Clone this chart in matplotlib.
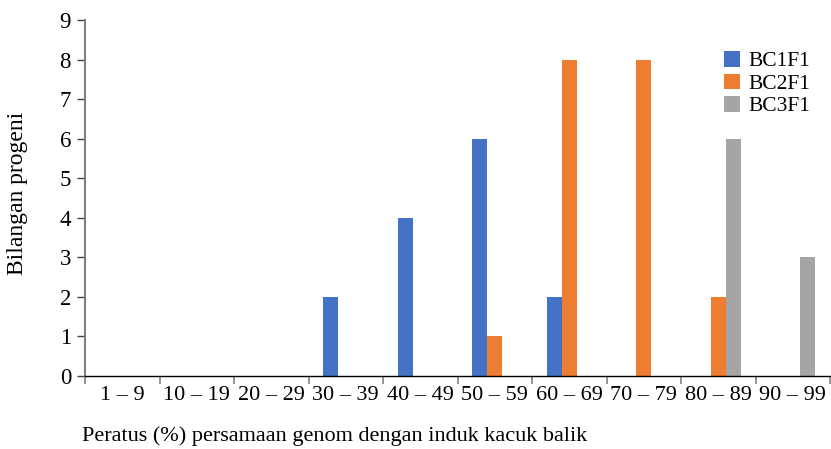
import matplotlib
matplotlib.use("Agg")
import matplotlib.pyplot as plt
import numpy as np

categories = ["1 – 9", "10 – 19", "20 – 29", "30 – 39", "40 – 49",
              "50 – 59", "60 – 69", "70 – 79", "80 – 89", "90 – 99"]
bc1f1 = [0, 0, 0, 2, 4, 6, 2, 0, 0, 0]
bc2f1 = [0, 0, 0, 0, 0, 1, 8, 8, 2, 0]
bc3f1 = [0, 0, 0, 0, 0, 0, 0, 0, 6, 3]
series_names = ["BC1F1", "BC2F1", "BC3F1"]
colors = ["#4472C4", "#ED7D31", "#A5A5A5"]

plt.rcParams["font.family"] = ["Liberation Serif", "DejaVu Serif"]

fig = plt.figure(figsize=(8.31, 4.49), dpi=100)
ax = fig.add_axes([85 / 831, 1 - 376 / 449, (830 - 85) / 831, (376 - 20) / 449])

x = np.arange(len(categories))
w = 0.2
for i, (vals, name, c) in enumerate(zip([bc1f1, bc2f1, bc3f1], series_names, colors)):
    ax.bar(x + (i - 1) * w, vals, width=w, color=c, label=name, zorder=2)

ax.set_xlim(-0.5, len(categories) - 0.5)
ax.set_ylim(0, 9)
ax.set_yticks(range(0, 10))
ax.tick_params(axis="y", labelsize=16.5, length=6, width=1, color="#404040", pad=4)

ax.set_xticks(x)
ax.set_xticklabels(categories, fontsize=16)
ax.tick_params(axis="x", which="major", length=0, pad=7)
ax.set_xticks(np.arange(-0.5, len(categories)), minor=True)
ax.tick_params(axis="x", which="minor", length=6, width=1.2, color="#808080")

for s in ["top", "right"]:
    ax.spines[s].set_visible(False)
ax.spines["left"].set_color("#808080")
ax.spines["left"].set_linewidth(1.5)
ax.spines["bottom"].set_color("#000000")
ax.spines["bottom"].set_linewidth(1.0)
ax.spines["bottom"].set_zorder(3)

fig.text(18 / 831, 1 - 193 / 449, "Bilangan progeni", rotation=90,
         ha="center", va="center", fontsize=17)
fig.text(82 / 831, 1 - 436 / 449, "Peratus (%) persamaan genom dengan induk kacuk balik",
         ha="left", va="center", fontsize=16)

ax.legend(loc="upper left", bbox_to_anchor=(724 / 831, 1 - 51 / 449),
          bbox_transform=fig.transFigure, frameon=False, fontsize=15.5,
          handlelength=0.75, handleheight=0.75, handletextpad=0.4,
          labelspacing=0.1, borderaxespad=0, borderpad=0)

fig.savefig("out.png", dpi=100)
